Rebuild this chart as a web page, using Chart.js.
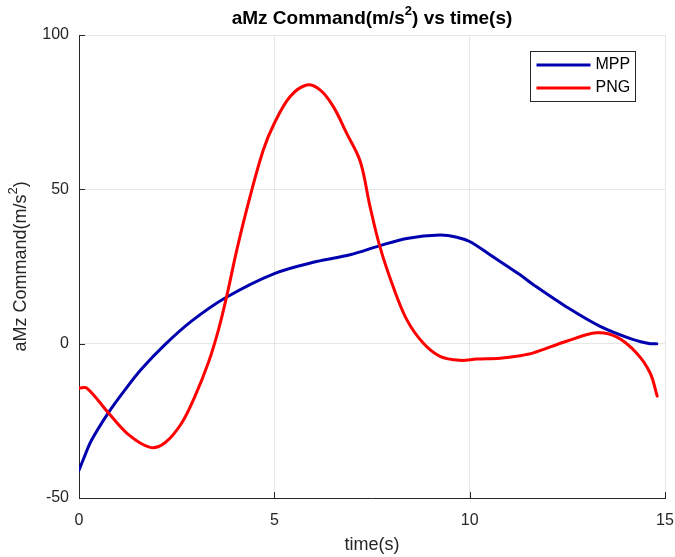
<!DOCTYPE html>
<html>
<head>
<meta charset="utf-8">
<script src="https://cdn.jsdelivr.net/npm/chart.js@4.4.1/dist/chart.umd.min.js"></script>
<style>
  html, body { margin: 0; padding: 0; background: #fff; }
  #wrap { width: 675px; height: 557px; }
</style>
</head>
<body>
<div id="wrap"><canvas id="chartAmz" width="675" height="557"></canvas></div>
<script>
// aceleración comandada aMz (m/s^2) de cada guiado frente al tiempo
const tiempoMpp = [0, 0.12, 0.32, 0.75, 1.18, 1.6, 2.2, 2.88, 3.74, 5.0, 6.08, 6.94, 7.69, 8.39, 9.24, 9.67, 10.0, 10.52, 11.29, 11.63, 12.48, 13.34, 14.19, 14.62, 14.79];
const aMzMpp = [-41, -37.2, -31.3, -22.4, -14.9, -8.2, -0.3, 7.3, 14.8, 22.7, 26.6, 28.8, 31.7, 34.1, 35.2, 34.5, 33.1, 28.8, 22.3, 19.1, 11.9, 5.6, 1.3, 0, 0];

const tiempoPng = [0, 0.2, 0.75, 1.26, 1.82, 2.2, 2.63, 2.97, 3.31, 3.57, 3.78, 4.04, 4.38, 4.72, 5.0, 5.4, 5.83, 6.17, 6.51, 6.85, 7.2, 7.45, 7.7, 8.04, 8.39, 8.81, 9.24, 9.75, 10.18, 10.78, 11.29, 11.63, 12.48, 13.25, 13.76, 14.27, 14.62, 14.8];
const aMzPng = [-14.4, -14.4, -22.4, -29.4, -33.6, -32.1, -25.7, -17, -6.2, 4.5, 15.3, 30.4, 47.7, 62.8, 71.4, 80, 83.8, 82.2, 76.8, 68.2, 59, 44.4, 31.5, 18.5, 7.8, 0.2, -4.1, -5.4, -5, -4.7, -3.9, -3, 0.8, 3.5, 2.2, -3, -9.5, -17];

const ticksX = [0, 5, 10, 15];
const ticksY = [-50, 0, 50, 100];

const colorEje = '#262626';
const fuente = '"Liberation Sans", Arial, sans-serif';

const aPuntos = (xs, ys) => xs.map((t, i) => ({ x: t, y: ys[i] }));

// texto con un superíndice en medio: [antes, sup, despues]
function textoSuper(ctx, partes, cx, cy, size, peso) {
    const fNormal = `${peso} ${size}px ${fuente}`;
    const fSup = `${peso} ${Math.round(size * 0.7)}px ${fuente}`;
    ctx.font = fNormal;
    const w0 = ctx.measureText(partes[0]).width;
    const w2 = ctx.measureText(partes[2]).width;
    ctx.font = fSup;
    const w1 = ctx.measureText(partes[1]).width;
    let x = cx - (w0 + w1 + w2) / 2;
    ctx.textAlign = 'left';
    ctx.textBaseline = 'middle';
    ctx.font = fNormal;
    ctx.fillText(partes[0], x, cy);
    x += w0;
    ctx.font = fSup;
    ctx.fillText(partes[1], x, cy - size * 0.4);
    x += w1;
    ctx.font = fNormal;
    ctx.fillText(partes[2], x, cy);
}

// ejes estilo matlab: ticks hacia dentro, titulos con superindice y leyenda en caja
const ejesMatlab = {
    id: 'ejesMatlab',
    afterDraw(chart) {
        const { ctx, chartArea: area, scales: { x, y } } = chart;
        ctx.save();
        ctx.strokeStyle = colorEje;
        ctx.lineWidth = 1;
        ticksX.forEach(v => {
            const px = Math.round(x.getPixelForValue(v)) + 0.5;
            ctx.beginPath();
            ctx.moveTo(px, area.bottom);
            ctx.lineTo(px, area.bottom - 6);
            ctx.stroke();
        });
        ticksY.forEach(v => {
            const py = Math.round(y.getPixelForValue(v)) + 0.5;
            ctx.beginPath();
            ctx.moveTo(area.left, py);
            ctx.lineTo(area.left + 6, py);
            ctx.stroke();
        });

        ctx.fillStyle = '#000';
        textoSuper(ctx, ['aMz Command(m/s', '2', ') vs time(s)'], (area.left + area.right) / 2, 19, 19, 'bold');

        ctx.save();
        ctx.translate(21, (area.top + area.bottom) / 2);
        ctx.rotate(-Math.PI / 2);
        ctx.fillStyle = colorEje;
        textoSuper(ctx, ['aMz Command(m/s', '2', ')'], 0, 0, 18, 'normal');
        ctx.restore();

        // leyenda
        const caja = { x: 530.5, y: 51.5, w: 105, h: 50 };
        ctx.fillStyle = '#fff';
        ctx.fillRect(caja.x, caja.y, caja.w, caja.h);
        ctx.strokeStyle = '#262626';
        ctx.lineWidth = 1;
        ctx.strokeRect(caja.x, caja.y, caja.w, caja.h);
        ctx.font = `16px ${fuente}`;
        ctx.textAlign = 'left';
        ctx.textBaseline = 'middle';
        chart.data.datasets.forEach((ds, i) => {
            const ly = caja.y + 13.5 + i * 23;
            ctx.strokeStyle = ds.borderColor;
            ctx.lineWidth = 3;
            ctx.beginPath();
            ctx.moveTo(caja.x + 6, ly);
            ctx.lineTo(caja.x + 60, ly);
            ctx.stroke();
            ctx.fillStyle = '#000';
            ctx.fillText(ds.label, caja.x + 65, ly);
        });
        ctx.restore();
    }
};

new Chart(document.getElementById('chartAmz').getContext('2d'), {
    type: 'line',
    data: {
        datasets: [
            { label: 'MPP', data: aPuntos(tiempoMpp, aMzMpp), borderColor: 'rgb(0,0,175)', borderWidth: 3, order: 1 },
            { label: 'PNG', data: aPuntos(tiempoPng, aMzPng), borderColor: 'rgb(255,0,0)', borderWidth: 3, order: 0 }
        ]
    },
    options: {
        responsive: false,
        animation: false,
        layout: { padding: { top: 35, right: 10, left: 0, bottom: 0 } },
        elements: {
            point: { radius: 0 },
            line: { tension: 0.35, fill: false, borderCapStyle: 'round', borderJoinStyle: 'round' }
        },
        plugins: { legend: { display: false }, tooltip: { enabled: false }, title: { display: false } },
        scales: {
            x: {
                type: 'linear', min: 0, max: 15,
                afterBuildTicks: s => { s.ticks = ticksX.map(v => ({ value: v })); },
                afterFit: s => { s.height = 59; s.paddingLeft = 0; s.paddingRight = 0; },
                ticks: { color: colorEje, font: { family: fuente, size: 16 }, padding: 13, maxRotation: 0 },
                grid: { color: '#e6e6e6', drawTicks: false },
                border: { color: colorEje },
                title: { display: true, text: 'time(s)', color: colorEje, font: { family: fuente, size: 18 }, padding: { top: 0, bottom: 1 } }
            },
            y: {
                min: -50, max: 100,
                afterBuildTicks: s => { s.ticks = ticksY.map(v => ({ value: v })); },
                afterFit: s => { s.width = 79; s.paddingTop = 0; s.paddingBottom = 0; },
                ticks: { color: colorEje, font: { family: fuente, size: 16 }, padding: 10 },
                grid: { color: '#e6e6e6', drawTicks: false },
                border: { color: colorEje }
            }
        }
    },
    plugins: [ejesMatlab]
});
</script>
</body>
</html>
